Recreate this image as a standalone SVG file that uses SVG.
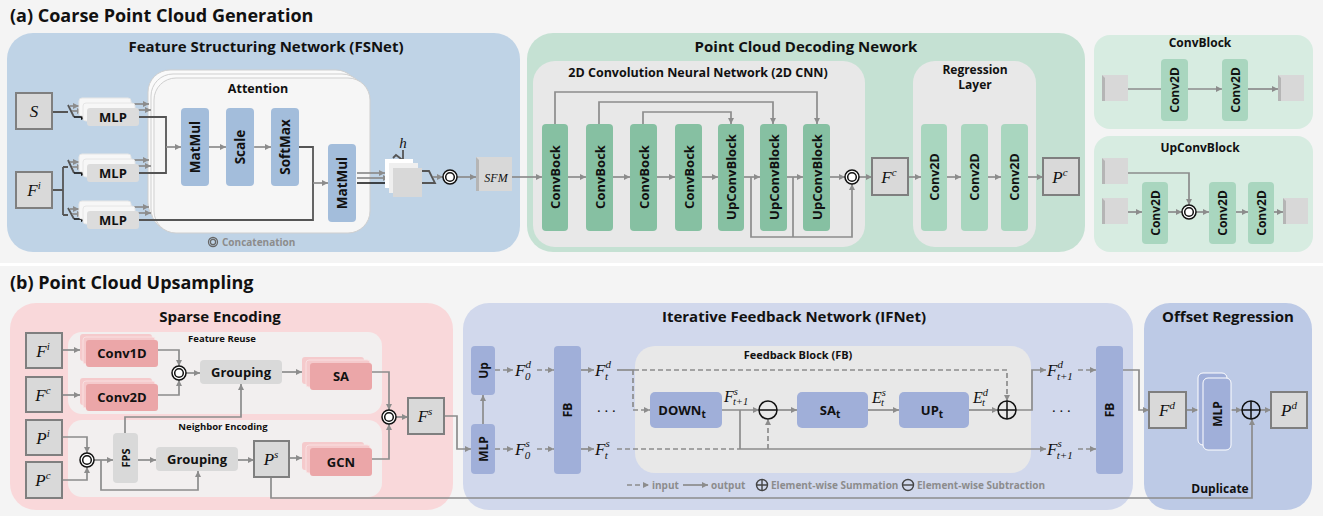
<svg xmlns="http://www.w3.org/2000/svg" width="1323" height="516" viewBox="0 0 1323 516">
<defs>
<marker id="ag" viewBox="0 0 6 6" refX="6" refY="3" markerWidth="6" markerHeight="6" markerUnits="userSpaceOnUse" orient="auto"><path d="M0,0L6,3L0,6z" fill="#8c8c8c"/></marker>
<marker id="ak" viewBox="0 0 6 6" refX="6" refY="3" markerWidth="6" markerHeight="6" markerUnits="userSpaceOnUse" orient="auto"><path d="M0,0L6,3L0,6z" fill="#111"/></marker>
<style>
.t{font-family:'Open Sans','Noto Sans',sans-serif;font-weight:700;fill:#111}
.m{font-family:'Liberation Serif','DejaVu Serif',serif;font-style:italic;fill:#111}
.lg{font-family:'Open Sans','Noto Sans',sans-serif;font-weight:700;fill:#8c8c8c;font-size:10px}
.ln{fill:none;stroke:#8c8c8c;stroke-width:1.7}
.la{fill:none;stroke:#8c8c8c;stroke-width:1.7;marker-end:url(#ag)}
.ld{fill:none;stroke:#8c8c8c;stroke-width:1.7;stroke-dasharray:5 3}
.lda{fill:none;stroke:#8c8c8c;stroke-width:1.7;stroke-dasharray:5 3;marker-end:url(#ag)}
.dk{fill:none;stroke:#555;stroke-width:1.8}
.ka{fill:none;stroke:#111;stroke-width:1.6;marker-end:url(#ak)}
.node{fill:#d9d9d9;stroke:#7f7f7f;stroke-width:2}
.cc{fill:#fff;stroke:#111;stroke-width:1.5}
.op{fill:none;stroke:#111;stroke-width:1.5}
.att{fill:#a3bddb}
.cb{fill:#86c0a2}
.c2{fill:#a9d6bf}
.pk{fill:#eba6a8}
.pkb{fill:#f5cacc}
.ib{fill:#a0afd9}
.gb{fill:#d9d9d9}
.ml0{fill:#f7f7f7;stroke:#e6e6e6;stroke-width:1}
.ml1{fill:#dcdcdc}
.cube{fill:#d8d8d8}
.cubes{fill:#b5b5b5}
</style>
</defs>
<rect x="0" y="0" width="1323" height="516" fill="#f4f4f4"/>
<rect x="0" y="263" width="1323" height="3" fill="#ffffff"/>

<!-- titles -->
<text class="t" x="10" y="22" font-size="18">(a) Coarse Point Cloud Generation</text>
<text class="t" x="10" y="289" font-size="18">(b) Point Cloud Upsampling</text>

<!-- panels -->
<g id="panels">
<rect x="7" y="33" width="513" height="219" rx="26" fill="#bfd3e6"/>
<text class="t" x="266" y="52" font-size="15" text-anchor="middle">Feature Structuring Network (FSNet)</text>
<rect x="148" y="70" width="210" height="155" rx="22" fill="#fafafa" stroke="#cfcfcf" stroke-width="1"/>
<rect x="151" y="74" width="213" height="157" rx="22" fill="#fafafa" stroke="#cfcfcf" stroke-width="1"/>
<rect x="154" y="78" width="216" height="155" rx="22" fill="#f6f6f6" stroke="#cfcfcf" stroke-width="1"/>
<text class="t" x="258" y="93" font-size="12.5" text-anchor="middle">Attention</text>

<rect x="527" y="33" width="558" height="219" rx="26" fill="#c5e1d3"/>
<text class="t" x="806" y="52" font-size="15" text-anchor="middle">Point Cloud Decoding Nework</text>
<rect x="533" y="61" width="332" height="186" rx="22" fill="#e8e8e8"/>
<text class="t" x="698" y="77" font-size="12.5" text-anchor="middle">2D Convolution Neural Network (2D CNN)</text>
<rect x="913" y="61" width="123" height="186" rx="22" fill="#e8e8e8"/>
<text class="t" x="975" y="74" font-size="12" text-anchor="middle">Regression</text>
<text class="t" x="975" y="89" font-size="12" text-anchor="middle">Layer</text>

<rect x="1094" y="35" width="219" height="94" rx="16" fill="#d7ece1"/>
<text class="t" x="1200" y="47" font-size="12" text-anchor="middle">ConvBlock</text>
<rect x="1094" y="136" width="219" height="116" rx="16" fill="#d7ece1"/>
<text class="t" x="1200" y="152" font-size="12" text-anchor="middle">UpConvBlock</text>

<rect x="10" y="303" width="443" height="207" rx="26" fill="#f9d8da"/>
<text class="t" x="220" y="322" font-size="15" text-anchor="middle">Sparse Encoding</text>
<rect x="68" y="332" width="314" height="82" rx="14" fill="#f2efef"/>
<text class="t" x="222" y="342" font-size="9.5" text-anchor="middle">Feature Reuse</text>
<rect x="68" y="420" width="314" height="77" rx="14" fill="#f2efef"/>
<text class="t" x="223" y="430" font-size="9.5" text-anchor="middle">Neighbor Encoding</text>

<rect x="463" y="303" width="670" height="207" rx="26" fill="#d1d8ec"/>
<text class="t" x="794" y="322" font-size="15" text-anchor="middle">Iterative Feedback Network (IFNet)</text>
<rect x="635" y="346" width="396" height="127" rx="20" fill="#e8e8e8"/>
<text class="t" x="798" y="359" font-size="11" text-anchor="middle">Feedback Block (FB)</text>

<rect x="1144" y="303" width="168" height="207" rx="26" fill="#bdcae6"/>
<text class="t" x="1228" y="322" font-size="15" text-anchor="middle">Offset Regression</text>
</g>

<!-- connectors -->
<g id="connectors">
<path class="dk" d="M52,112H68M68,105L74,117"/>
<path class="ka" d="M74,117H87"/>
<path class="la" d="M70,106H79"/>
<path class="la" d="M72,111H83"/>
<path class="dk" d="M52,190H63M63,167V215M63,167H68M63,215H68M68,160L74,173M68,208L74,219"/>
<path class="ka" d="M74,173H87"/>
<path class="ka" d="M74,219H87"/>
<path class="la" d="M70,162H79"/>
<path class="la" d="M72,167H83"/>
<path class="la" d="M70,209H79"/>
<path class="la" d="M72,214H83"/>
<path class="la" d="M131,104H149"/>
<path class="la" d="M135,110H151"/>
<path class="la" d="M131,160H149"/>
<path class="la" d="M135,166H151"/>
<path class="la" d="M131,207H149"/>
<path class="la" d="M135,213H151"/>
<path class="dk" d="M139,117H166V173H139"/>
<path class="dk" d="M139,220H313V147H299"/>
<path class="la" d="M166,147H181"/>
<path class="la" d="M209,147H226"/>
<path class="la" d="M254,147H271"/>
<path class="la" d="M313,183H328"/>
<path class="la" d="M357,173H385"/>
<path class="la" d="M357,178H389"/>
<path class="ka" d="M357,183H393"/>
<path class="dk" d="M393,158L396,155L413,168M403,150V161"/>
<path class="dk" d="M422,171H429L435,183H422"/>
<path class="la" d="M433,177H443"/>
<path class="la" d="M457,177H476"/>
<path class="la" d="M512,177H542"/>
<path class="la" d="M568,177H586"/>
<path class="la" d="M613,177H630"/>
<path class="la" d="M657,177H675"/>
<path class="la" d="M702,177H718"/>
<path class="la" d="M744,177H760"/>
<path class="la" d="M787,177H803"/>
<path class="la" d="M830,177H845"/>
<path class="la" d="M555,124V92H817V124"/>
<path class="la" d="M599,124V102H773V124"/>
<path class="la" d="M643,124V112H731V124"/>
<path class="la" d="M751,177V237H852V184"/>
<path class="ln" d="M793,177V237"/>
<path class="la" d="M859,177H872"/>
<path class="la" d="M908,177H921"/>
<path class="la" d="M947,177H961"/>
<path class="la" d="M988,177H1001"/>
<path class="la" d="M1028,177H1043"/>
<path class="ln" d="M1128,89H1161"/>
<path class="la" d="M1188,89H1222"/>
<path class="la" d="M1248,89H1278"/>
<path class="la" d="M1128,173H1189V205"/>
<path class="la" d="M1128,212H1142"/>
<path class="la" d="M1168,212H1182"/>
<path class="la" d="M1196,212H1209"/>
<path class="la" d="M1236,212H1248"/>
<path class="la" d="M1274,212H1283"/>
<path class="la" d="M62,350H80"/>
<path class="la" d="M62,395H80"/>
<path class="la" d="M158,350H179V366"/>
<path class="la" d="M158,395H179V380"/>
<path class="la" d="M186,373H200"/>
<path class="la" d="M282,372H302"/>
<path class="la" d="M62,437H87V453"/>
<path class="la" d="M62,480H87V467"/>
<path class="la" d="M94,460H113"/>
<path class="la" d="M101,460V490H198V471"/>
<path class="la" d="M125,433V417H241V384"/>
<path class="la" d="M138,460H156"/>
<path class="la" d="M238,460H254"/>
<path class="la" d="M289,458H302"/>
<path class="la" d="M271,477V498H1252V419"/>
<path class="la" d="M372,372H389V410"/>
<path class="la" d="M372,459H389V424"/>
<path class="la" d="M396,417H408"/>
<path class="la" d="M444,416H457V449H471"/>
<path class="la" d="M483,424V395"/>
<path class="lda" d="M495,370H513"/>
<path class="lda" d="M537,370H554"/>
<path class="lda" d="M495,449H513"/>
<path class="lda" d="M537,449H554"/>
<path class="la" d="M581,370H594"/>
<path class="la" d="M581,449H594"/>
<path class="ln" d="M617,370H634"/>
<path class="lda" d="M634,370H1007V401"/>
<path class="lda" d="M633,370V410H650"/>
<path class="la" d="M722,410H759"/>
<path class="la" d="M777,410H797"/>
<path class="la" d="M868,410H899"/>
<path class="la" d="M969,410H998"/>
<path class="la" d="M1016,410H1032V370H1046"/>
<path class="lda" d="M1078,370H1096"/>
<path class="ld" d="M617,449H740"/>
<path class="la" d="M740,449H1046"/>
<path class="ln" d="M740,449V410"/>
<path class="lda" d="M768,449V419"/>
<path class="lda" d="M1078,449H1096"/>
<path class="la" d="M1123,370H1139V410H1149"/>
<path class="la" d="M1186,410H1198"/>
<path class="la" d="M1231,410H1242"/>
<path class="la" d="M1260,410H1271"/>
</g>

<!-- FSNet nodes -->
<g id="node-S"><rect class="node" x="16" y="93" width="36" height="36"/><text class="m" x="34" y="117" font-size="17" text-anchor="middle">S</text></g>
<g id="node-Fi"><rect class="node" x="16" y="172" width="36" height="36"/><text class="m" x="34" y="196" font-size="17" text-anchor="middle">F<tspan font-size="11" dy="-7">i</tspan></text></g>
<g id="node-mlp1"><rect class="ml0" x="79" y="98" width="52" height="18" rx="3"/><rect class="ml0" x="83" y="103" width="52" height="18" rx="3"/><rect class="ml1" x="87" y="108" width="52" height="18" rx="3"/><text class="t" x="113" y="122" font-size="13" text-anchor="middle">MLP</text></g>
<g id="node-mlp2"><rect class="ml0" x="79" y="154" width="52" height="18" rx="3"/><rect class="ml0" x="83" y="159" width="52" height="18" rx="3"/><rect class="ml1" x="87" y="164" width="52" height="18" rx="3"/><text class="t" x="113" y="178" font-size="13" text-anchor="middle">MLP</text></g>
<g id="node-mlp3"><rect class="ml0" x="79" y="201" width="52" height="18" rx="3"/><rect class="ml0" x="83" y="206" width="52" height="18" rx="3"/><rect class="ml1" x="87" y="211" width="52" height="18" rx="3"/><text class="t" x="113" y="225" font-size="13" text-anchor="middle">MLP</text></g>
<g id="node-matmul1"><rect class="att" x="181" y="108" width="28" height="78" rx="4"/><text class="t" font-size="13.5" text-anchor="middle" dominant-baseline="central" transform="translate(195,147) rotate(-90)">MatMul</text></g>
<g id="node-scale"><rect class="att" x="226" y="108" width="28" height="78" rx="4"/><text class="t" font-size="13.5" text-anchor="middle" dominant-baseline="central" transform="translate(240,147) rotate(-90)">Scale</text></g>
<g id="node-softmax"><rect class="att" x="271" y="108" width="28" height="78" rx="4"/><text class="t" font-size="13.5" text-anchor="middle" dominant-baseline="central" transform="translate(285,147) rotate(-90)">SoftMax</text></g>
<g id="node-matmul2"><rect class="att" x="328" y="144" width="28" height="78" rx="4"/><text class="t" font-size="13.5" text-anchor="middle" dominant-baseline="central" transform="translate(342,183) rotate(-90)">MatMul</text></g>
<g id="node-heads"><rect x="385" y="159" width="28" height="29" fill="#ffffff"/><rect x="389" y="163" width="29" height="30" fill="#efefef"/><rect x="393" y="168" width="29" height="29" fill="#d8d8d8"/><text class="m" x="403" y="148" font-size="15" text-anchor="middle">h</text></g>
<g id="node-concat1"><circle class="cc" cx="450" cy="177" r="7"/><circle class="op" cx="450" cy="177" r="4.3"/></g>
<g id="node-sfm"><rect class="cube" x="476" y="157" width="36" height="34"/><path class="cubes" d="M476,157L479,160V191H476z"/><text class="m" x="496" y="182" font-size="12" text-anchor="middle">SFM</text></g>
<g id="legend-concat"><circle cx="213" cy="242" r="4.5" fill="none" stroke="#666" stroke-width="1.3"/><circle cx="213" cy="242" r="2.6" fill="none" stroke="#666" stroke-width="1.2"/><text class="lg" x="222" y="246" font-size="10.5">Concatenation</text></g>

<!-- decoding nodes -->
<g id="node-cb1"><rect class="cb" x="542" y="124" width="26" height="107" rx="4"/><text class="t" font-size="13" text-anchor="middle" dominant-baseline="central" transform="translate(555,177) rotate(-90)">ConvBock</text></g>
<g id="node-cb2"><rect class="cb" x="586" y="124" width="27" height="107" rx="4"/><text class="t" font-size="13" text-anchor="middle" dominant-baseline="central" transform="translate(599.5,177) rotate(-90)">ConvBock</text></g>
<g id="node-cb3"><rect class="cb" x="630" y="124" width="27" height="107" rx="4"/><text class="t" font-size="13" text-anchor="middle" dominant-baseline="central" transform="translate(643.5,177) rotate(-90)">ConvBock</text></g>
<g id="node-cb4"><rect class="cb" x="675" y="124" width="27" height="107" rx="4"/><text class="t" font-size="13" text-anchor="middle" dominant-baseline="central" transform="translate(688.5,177) rotate(-90)">ConvBock</text></g>
<g id="node-ucb1"><rect class="cb" x="718" y="124" width="26" height="107" rx="4"/><text class="t" font-size="13" text-anchor="middle" dominant-baseline="central" transform="translate(731,177) rotate(-90)">UpConvBlock</text></g>
<g id="node-ucb2"><rect class="cb" x="760" y="124" width="27" height="107" rx="4"/><text class="t" font-size="13" text-anchor="middle" dominant-baseline="central" transform="translate(773.5,177) rotate(-90)">UpConvBlock</text></g>
<g id="node-ucb3"><rect class="cb" x="803" y="124" width="27" height="107" rx="4"/><text class="t" font-size="13" text-anchor="middle" dominant-baseline="central" transform="translate(816.5,177) rotate(-90)">UpConvBlock</text></g>
<g id="node-concat2"><circle class="cc" cx="852" cy="177" r="7"/><circle class="op" cx="852" cy="177" r="4.3"/></g>
<g id="node-Fc"><rect class="node" x="872" y="158" width="36" height="37"/><text class="m" x="889" y="183" font-size="17" text-anchor="middle">F<tspan font-size="11" dy="-7">c</tspan></text></g>
<g id="node-r1"><rect class="c2" x="921" y="124" width="26" height="107" rx="4"/><text class="t" font-size="12.5" text-anchor="middle" dominant-baseline="central" transform="translate(934,177) rotate(-90)">Conv2D</text></g>
<g id="node-r2"><rect class="c2" x="961" y="124" width="27" height="107" rx="4"/><text class="t" font-size="12.5" text-anchor="middle" dominant-baseline="central" transform="translate(974.5,177) rotate(-90)">Conv2D</text></g>
<g id="node-r3"><rect class="c2" x="1001" y="124" width="27" height="107" rx="4"/><text class="t" font-size="12.5" text-anchor="middle" dominant-baseline="central" transform="translate(1014.5,177) rotate(-90)">Conv2D</text></g>
<g id="node-Pc"><rect class="node" x="1043" y="158" width="36" height="37"/><text class="m" x="1060" y="183" font-size="17" text-anchor="middle">P<tspan font-size="11" dy="-7">c</tspan></text></g>

<!-- ConvBlock nodes -->
<g id="cb-in"><rect class="cube" x="1102" y="75" width="26" height="26"/><path class="cubes" d="M1102,75L1105,78V101H1102z"/></g>
<g id="cb-c1"><rect class="c2" x="1161" y="59" width="27" height="62" rx="4"/><text class="t" font-size="12" text-anchor="middle" dominant-baseline="central" transform="translate(1174.5,90) rotate(-90)">Conv2D</text></g>
<g id="cb-c2"><rect class="c2" x="1222" y="59" width="26" height="62" rx="4"/><text class="t" font-size="12" text-anchor="middle" dominant-baseline="central" transform="translate(1235,90) rotate(-90)">Conv2D</text></g>
<g id="cb-out"><rect class="cube" x="1278" y="75" width="26" height="26"/><path class="cubes" d="M1278,75L1281,78V101H1278z"/></g>
<g id="ucb-in1"><rect class="cube" x="1102" y="158" width="26" height="26"/><path class="cubes" d="M1102,158L1105,161V184H1102z"/></g>
<g id="ucb-in2"><rect class="cube" x="1102" y="198" width="26" height="26"/><path class="cubes" d="M1102,198L1105,201V224H1102z"/></g>
<g id="ucb-c1"><rect class="c2" x="1142" y="182" width="26" height="62" rx="4"/><text class="t" font-size="12" text-anchor="middle" dominant-baseline="central" transform="translate(1155,213) rotate(-90)">Conv2D</text></g>
<g id="ucb-cat"><circle class="cc" cx="1189" cy="212" r="7"/><circle class="op" cx="1189" cy="212" r="4.3"/></g>
<g id="ucb-c2"><rect class="c2" x="1209" y="182" width="27" height="62" rx="4"/><text class="t" font-size="12" text-anchor="middle" dominant-baseline="central" transform="translate(1222.5,213) rotate(-90)">Conv2D</text></g>
<g id="ucb-c3"><rect class="c2" x="1248" y="182" width="26" height="62" rx="4"/><text class="t" font-size="12" text-anchor="middle" dominant-baseline="central" transform="translate(1261,213) rotate(-90)">Conv2D</text></g>
<g id="ucb-out"><rect class="cube" x="1283" y="198" width="25" height="26"/><path class="cubes" d="M1283,198L1286,201V224H1283z"/></g>

<!-- Sparse encoding nodes -->
<g id="node-Fi2"><rect class="node" x="26" y="333" width="36" height="35"/><text class="m" x="43" y="357" font-size="17" text-anchor="middle">F<tspan font-size="11" dy="-7">i</tspan></text></g>
<g id="node-Fc2"><rect class="node" x="26" y="377" width="36" height="35"/><text class="m" x="43" y="401" font-size="17" text-anchor="middle">F<tspan font-size="11" dy="-7">c</tspan></text></g>
<g id="node-Pi"><rect class="node" x="26" y="420" width="36" height="35"/><text class="m" x="43" y="444" font-size="17" text-anchor="middle">P<tspan font-size="11" dy="-7">i</tspan></text></g>
<g id="node-Pc2"><rect class="node" x="26" y="462" width="36" height="36"/><text class="m" x="43" y="486" font-size="17" text-anchor="middle">P<tspan font-size="11" dy="-7">c</tspan></text></g>
<g id="node-conv1d"><rect class="pkb" x="80" y="334" width="72" height="27" rx="3"/><rect class="pkb" x="83" y="337" width="72" height="27" rx="3" stroke="#f9e0e1" stroke-width="1"/><rect class="pk" x="86" y="340" width="72" height="27" rx="3"/><text class="t" x="122" y="358" font-size="13" text-anchor="middle">Conv1D</text></g>
<g id="node-conv2d"><rect class="pkb" x="80" y="378" width="72" height="27" rx="3"/><rect class="pkb" x="83" y="381" width="72" height="27" rx="3" stroke="#f9e0e1" stroke-width="1"/><rect class="pk" x="86" y="384" width="72" height="27" rx="3"/><text class="t" x="122" y="402" font-size="13" text-anchor="middle">Conv2D</text></g>
<g id="node-cat3"><circle class="cc" cx="179" cy="373" r="7"/><circle class="op" cx="179" cy="373" r="4.3"/></g>
<g id="node-group1"><rect class="gb" x="200" y="360" width="82" height="24" rx="4"/><text class="t" x="241" y="377" font-size="13" text-anchor="middle">Grouping</text></g>
<g id="node-sa"><rect class="pkb" x="302" y="357" width="62" height="27" rx="3"/><rect class="pkb" x="306" y="360" width="64" height="27" rx="3" stroke="#f9e0e1" stroke-width="1"/><rect class="pk" x="310" y="363" width="62" height="27" rx="3"/><text class="t" x="341" y="381" font-size="13" text-anchor="middle">SA</text></g>
<g id="node-cat4"><circle class="cc" cx="87" cy="460" r="7"/><circle class="op" cx="87" cy="460" r="4.3"/></g>
<g id="node-fps"><rect class="gb" x="113" y="433" width="25" height="50" rx="4"/><text class="t" font-size="11" text-anchor="middle" dominant-baseline="central" transform="translate(125.5,458) rotate(-90)">FPS</text></g>
<g id="node-group2"><rect class="gb" x="156" y="447" width="82" height="24" rx="4"/><text class="t" x="197" y="464" font-size="13" text-anchor="middle">Grouping</text></g>
<g id="node-Ps"><rect class="node" x="254" y="441" width="35" height="36"/><text class="m" x="271" y="465" font-size="17" text-anchor="middle">P<tspan font-size="11" dy="-7">s</tspan></text></g>
<g id="node-gcn"><rect class="pkb" x="302" y="442" width="62" height="28" rx="3"/><rect class="pkb" x="306" y="445" width="64" height="28" rx="3" stroke="#f9e0e1" stroke-width="1"/><rect class="pk" x="310" y="448" width="62" height="28" rx="3"/><text class="t" x="341" y="467" font-size="13" text-anchor="middle">GCN</text></g>
<g id="node-cat5"><circle class="cc" cx="389" cy="417" r="7"/><circle class="op" cx="389" cy="417" r="4.3"/></g>
<g id="node-Fs"><rect class="node" x="408" y="398" width="36" height="36"/><text class="m" x="425" y="422" font-size="17" text-anchor="middle">F<tspan font-size="11" dy="-7">s</tspan></text></g>

<!-- IFNet nodes -->
<g id="node-up"><rect class="ib" x="471" y="346" width="24" height="49" rx="4"/><text class="t" font-size="12" text-anchor="middle" dominant-baseline="central" transform="translate(483,370.5) rotate(-90)">Up</text></g>
<g id="node-mlp4"><rect class="ib" x="471" y="424" width="24" height="50" rx="4"/><text class="t" font-size="12" text-anchor="middle" dominant-baseline="central" transform="translate(483,449) rotate(-90)">MLP</text></g>
<g id="lbl-F0d"><text class="m" x="515" y="376" font-size="17">F<tspan font-size="11" dy="-8">d</tspan><tspan font-size="11" dx="-6" dy="12">0</tspan></text></g>
<g id="lbl-F0s"><text class="m" x="515" y="455" font-size="17">F<tspan font-size="11" dy="-8">s</tspan><tspan font-size="11" dx="-5" dy="12">0</tspan></text></g>
<g id="node-fb1"><rect class="ib" x="554" y="346" width="27" height="128" rx="4"/><text class="t" font-size="12" text-anchor="middle" dominant-baseline="central" transform="translate(567.5,410) rotate(-90)">FB</text></g>
<g id="lbl-Ftd"><text class="m" x="595" y="376" font-size="17">F<tspan font-size="11" dy="-8">d</tspan><tspan font-size="11" dx="-6" dy="12">t</tspan></text></g>
<g id="lbl-Fts"><text class="m" x="595" y="455" font-size="17">F<tspan font-size="11" dy="-8">s</tspan><tspan font-size="11" dx="-5" dy="12">t</tspan></text></g>
<text class="m" x="606" y="416" font-size="15" text-anchor="middle">· · ·</text>
<g id="node-down"><rect class="ib" x="650" y="392" width="72" height="36" rx="5"/><text class="t" x="682" y="415" font-size="13" text-anchor="middle">DOWN<tspan font-size="10" dy="3">t</tspan></text></g>
<g id="lbl-Ft1s"><text class="m" x="724" y="402" font-size="16">F<tspan font-size="10.5" dy="-7">s</tspan><tspan font-size="10.5" dx="-5" dy="10">t+1</tspan></text></g>
<g id="node-sub"><circle cx="768" cy="410" r="9" fill="none" stroke="#111" stroke-width="1.5"/><path class="op" d="M759,410H777"/></g>
<g id="node-sat"><rect class="ib" x="797" y="392" width="71" height="36" rx="5"/><text class="t" x="830" y="415" font-size="13" text-anchor="middle">SA<tspan font-size="10" dy="3">t</tspan></text></g>
<g id="lbl-Ets"><text class="m" x="872" y="403" font-size="16">E<tspan font-size="10.5" dy="-7">s</tspan><tspan font-size="10.5" dx="-5" dy="10">t</tspan></text></g>
<g id="node-upt"><rect class="ib" x="899" y="392" width="70" height="36" rx="5"/><text class="t" x="932" y="415" font-size="13" text-anchor="middle">UP<tspan font-size="10" dy="3">t</tspan></text></g>
<g id="lbl-Etd"><text class="m" x="973" y="403" font-size="16">E<tspan font-size="10.5" dy="-7">d</tspan><tspan font-size="10.5" dx="-6" dy="10">t</tspan></text></g>
<g id="node-add1"><circle cx="1007" cy="410" r="9" fill="none" stroke="#111" stroke-width="1.5"/><path class="op" d="M998,410H1016M1007,401V419"/></g>
<g id="lbl-Ft1d"><text class="m" x="1047" y="376" font-size="17">F<tspan font-size="11" dy="-8">d</tspan><tspan font-size="11" dx="-6" dy="12">t+1</tspan></text></g>
<g id="lbl-Ft1s2"><text class="m" x="1047" y="455" font-size="17">F<tspan font-size="11" dy="-8">s</tspan><tspan font-size="11" dx="-5" dy="12">t+1</tspan></text></g>
<text class="m" x="1061" y="416" font-size="15" text-anchor="middle">· · ·</text>
<g id="node-fb2"><rect class="ib" x="1096" y="346" width="27" height="128" rx="4"/><text class="t" font-size="12" text-anchor="middle" dominant-baseline="central" transform="translate(1109.5,410) rotate(-90)">FB</text></g>
<g id="legend-ifnet">
<path class="lda" d="M627,485H649"/><text class="lg" x="652" y="489">input</text>
<path class="la" d="M683,485H708"/><text class="lg" x="711" y="489">output</text>
<circle cx="762" cy="485" r="5.5" fill="none" stroke="#444" stroke-width="1.4"/><path d="M756.5,485H767.5M762,479.5V490.5" stroke="#444" stroke-width="1.4"/>
<text class="lg" x="771" y="489">Element-wise Summation</text>
<circle cx="908" cy="485" r="5.5" fill="none" stroke="#444" stroke-width="1.4"/><path d="M902.5,485H913.5" stroke="#444" stroke-width="1.4"/>
<text class="lg" x="917" y="489">Element-wise Subtraction</text>
</g>

<!-- Offset regression nodes -->
<g id="node-Fd"><rect class="node" x="1149" y="392" width="37" height="36"/><text class="m" x="1167" y="416" font-size="17" text-anchor="middle">F<tspan font-size="11" dy="-7">d</tspan></text></g>
<g id="node-mlp5"><rect class="ib" x="1198" y="373" width="29" height="72" rx="5" stroke="#ffffff" stroke-width="1"/><rect class="ib" x="1203" y="378" width="28" height="72" rx="5" stroke="#ffffff" stroke-width="1"/><text class="t" font-size="12" text-anchor="middle" dominant-baseline="central" transform="translate(1217,414) rotate(-90)">MLP</text></g>
<g id="node-add2"><circle cx="1251" cy="410" r="9" fill="none" stroke="#111" stroke-width="1.5"/><path class="op" d="M1242,410H1260M1251,401V419"/></g>
<g id="node-Pd"><rect class="node" x="1271" y="392" width="36" height="36"/><text class="m" x="1289" y="416" font-size="17" text-anchor="middle">P<tspan font-size="11" dy="-7">d</tspan></text></g>
<text class="t" x="1220" y="493" font-size="12" text-anchor="middle">Duplicate</text>
</svg>
